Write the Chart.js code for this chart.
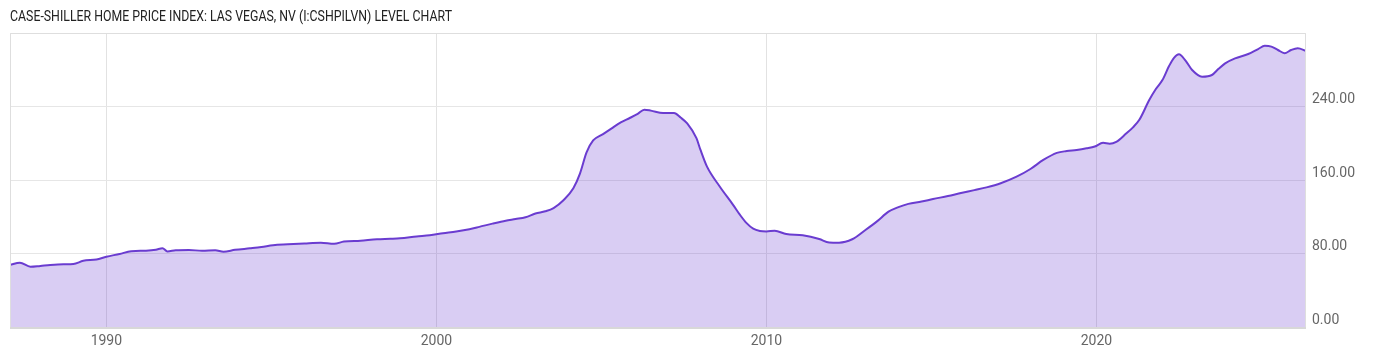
<!DOCTYPE html>
<html>
<head>
<meta charset="utf-8">
<script src="https://cdn.jsdelivr.net/npm/chart.js@4.4.0/dist/chart.umd.min.js"></script>
<style>
  html, body { margin: 0; padding: 0; background: #fff; }
  #wrap { position: relative; width: 1400px; height: 357px; }
  #title {
    position: absolute; left: 10px; top: 7px;
    font-family: Roboto, sans-serif; font-size: 15px; color: #222;
    white-space: nowrap; transform-origin: left top; display: inline-block;
  }
</style>
</head>
<body>
<div id="wrap">
  <div id="title">CASE-SHILLER HOME PRICE INDEX: LAS VEGAS, NV (I:CSHPILVN) LEVEL CHART</div>
  <canvas id="mychart" width="1400" height="357"></canvas>
</div>
<script>
// decimal year of each reading
const years = [
  1987.08, 1987.38, 1987.7, 1988.0, 1988.3, 1988.7, 1989.0, 1989.3, 1989.7, 1990.0,
  1990.4, 1990.75, 1991.2, 1991.5, 1991.7, 1991.85, 1992.1, 1992.5, 1992.9, 1993.3,
  1993.55, 1993.9, 1994.35, 1994.7, 1995.05, 1995.5, 1996.0, 1996.5, 1996.9, 1997.2,
  1997.7, 1998.2, 1998.6, 1998.9, 1999.4, 1999.8, 2000.2, 2000.6, 2001.0, 2001.3,
  2001.7, 2002.1, 2002.4, 2002.7, 2003.0, 2003.3, 2003.55, 2003.85, 2004.15, 2004.35,
  2004.55, 2004.75, 2005.05, 2005.3, 2005.6, 2005.86, 2006.1, 2006.3, 2006.5, 2006.87,
  2007.2, 2007.4, 2007.6, 2007.88, 2008.0, 2008.2, 2008.59, 2008.99, 2009.2, 2009.4,
  2009.6, 2009.8, 2010.0, 2010.25, 2010.6, 2011.1, 2011.6, 2011.9, 2012.2, 2012.6,
  2013.0, 2013.35, 2013.7, 2014.0, 2014.3, 2014.7, 2015.05, 2015.5, 2015.86, 2016.3,
  2016.67, 2017.1, 2017.58, 2018.0, 2018.39, 2018.8, 2019.1, 2019.4, 2019.7, 2019.95,
  2020.2, 2020.4, 2020.6, 2020.9, 2021.1, 2021.3, 2021.6, 2021.8, 2022.0, 2022.2,
  2022.35, 2022.5, 2022.7, 2022.9, 2023.2, 2023.5, 2023.7, 2023.9, 2024.2, 2024.6,
  2024.9, 2025.1, 2025.3, 2025.5, 2025.7, 2025.9, 2026.1, 2026.35
];
// index level
const levels = [
  67.5, 70, 65.6, 66.5, 67.5, 68.3, 68.6, 72, 73.5, 76.5,
  79.5, 82.5, 83, 84, 85.8, 82.3, 83.5, 83.8, 83, 83.6,
  82, 84, 85.6, 87, 89, 90, 91, 91.8, 90.5, 93,
  94, 95.5, 96, 96.5, 98.5, 99.8, 102, 104, 106.5, 109,
  112.5, 115.7, 117.5, 119.5, 123.5, 126, 129.5, 138, 151, 167,
  190, 203, 210, 216, 223, 227.5, 232, 236.5, 235.5, 232.8,
  232.8, 228, 221.5, 205.5, 193, 174.5, 152.7, 133, 122, 113,
  107, 104.5, 104, 104.8, 101.2, 99.8, 95.8, 92, 91.8, 95.5,
  105.6, 115, 125.5, 130.5, 134, 136.5, 139.3, 142.5, 145.5, 149,
  152, 156.5, 163.6, 172, 181.8, 189.5, 191.5, 192.7, 194.5, 196.5,
  200.5, 199.5, 201.5, 210.5, 217, 225.5, 247, 259, 268.8, 284,
  293, 296.8, 289.9, 279.7, 272.5, 274.3, 281, 287, 292.4, 297.1,
  302.5, 306, 305.2, 301.5, 298, 301.5, 303.3, 300.5
];
const xTicks = [1990, 2000, 2010, 2020];
const yTicks = [0, 80, 160, 240, 320];

// squeeze the title to the narrow width of the original
const t = document.getElementById('title');
t.style.transform = 'scaleX(' + (442 / t.getBoundingClientRect().width) + ')';

const points = years.map((x, i) => ({ x: x, y: levels[i] }));

const boxPlugin = {
  id: 'box',
  afterDraw(chart) {
    const a = chart.chartArea, c = chart.ctx;
    c.save();
    c.strokeStyle = '#dedede';
    c.lineWidth = 1;
    c.beginPath();
    c.moveTo(a.left + 0.5, a.bottom); c.lineTo(a.left + 0.5, a.top + 0.5);
    c.lineTo(a.right - 0.5, a.top + 0.5); c.lineTo(a.right - 0.5, a.bottom);
    c.stroke();
    c.strokeStyle = '#d8d8d8';
    c.lineWidth = 2;
    c.beginPath();
    c.moveTo(a.left, a.bottom + 1); c.lineTo(a.right, a.bottom + 1);
    c.stroke();
    c.restore();
  }
};

const ctx = document.getElementById('mychart').getContext('2d');
new Chart(ctx, {
  type: 'line',
  data: {
    datasets: [{
      label: 'Las Vegas',
      data: points,
      borderColor: '#6a3cd0',
      backgroundColor: 'rgba(110, 60, 210, 0.26)',
      borderWidth: 2,
      pointRadius: 0,
      fill: 'origin',
      cubicInterpolationMode: 'monotone'
    }]
  },
  options: {
    responsive: false,
    animation: false,
    layout: { padding: { left: 10, top: 33, right: 0, bottom: 0 } },
    plugins: { legend: { display: false }, tooltip: { enabled: false } },
    scales: {
      x: {
        type: 'linear',
        min: years[0],
        max: years[years.length - 1],
        afterBuildTicks: s => { s.ticks = xTicks.map(v => ({ value: v })); },
        afterFit: s => { s.height = 30; },
        grid: { color: '#e2e2e2', drawTicks: false },
        border: { display: false },
        ticks: {
          padding: 6,
          color: '#666',
          font: { family: 'Roboto', size: 14 },
          callback: v => String(v)
        }
      },
      y: {
        position: 'right',
        min: 0,
        max: 320,
        afterBuildTicks: s => { s.ticks = yTicks.map(v => ({ value: v })); },
        afterFit: s => { s.width = 94; },
        grid: { color: '#e6e6e6', drawTicks: false },
        border: { display: false },
        ticks: {
          padding: 6,
          labelOffset: -7,
          color: '#666',
          font: { family: 'Roboto', size: 14 },
          callback: v => (v === 320 ? '' : v.toFixed(2))
        }
      }
    }
  },
  plugins: [boxPlugin]
});
</script>
</body>
</html>
